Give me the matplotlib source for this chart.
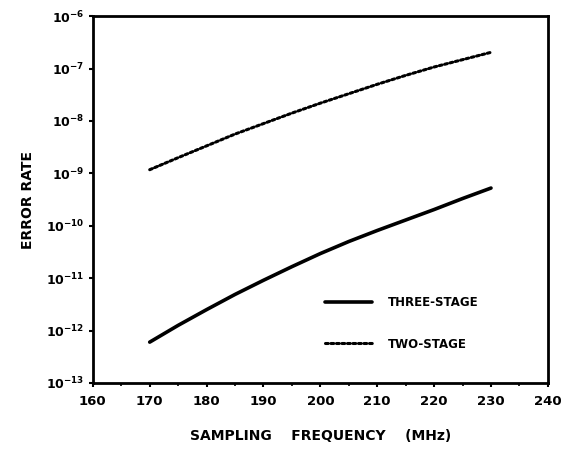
import numpy as np
import matplotlib
matplotlib.use("Agg")
import matplotlib.pyplot as plt
from matplotlib.ticker import FixedLocator, FuncFormatter, MultipleLocator

plt.rcParams['font.family'] = ['DejaVu Sans']
plt.rcParams['font.weight'] = 'bold'
plt.rcParams['mathtext.fontset'] = 'custom'
plt.rcParams['mathtext.rm'] = 'DejaVu Sans:bold'
plt.rcParams['mathtext.bf'] = 'DejaVu Sans:bold'
plt.rcParams['mathtext.default'] = 'bf'

# Data (log10 of error rate)
freq = [170, 175, 180, 185, 190, 195, 200, 205, 210, 215, 220, 225, 230]
three_stage_log = [-12.22, -11.90, -11.60, -11.31, -11.04, -10.78, -10.53,
                   -10.30, -10.09, -9.89, -9.69, -9.48, -9.28]
two_stage_log = [-8.93, -8.70, -8.475, -8.25, -8.05, -7.85, -7.66,
                 -7.48, -7.30, -7.13, -6.97, -6.83, -6.69]
three_stage = [10 ** v for v in three_stage_log]
two_stage = [10 ** v for v in two_stage_log]

x_ticks = [160, 170, 180, 190, 200, 210, 220, 230, 240]
y_exps = [-13, -12, -11, -10, -9, -8, -7, -6]

fig = plt.figure(figsize=(5.66, 4.49), dpi=100)
ax = fig.add_axes([0.164, 0.147, 0.804, 0.817])

ax.plot(freq, three_stage, color='black', lw=2.6, solid_capstyle='round',
        label='THREE-STAGE')
ax.plot(freq, two_stage, color='black', lw=2.2, linestyle=(0, (0.9, 0.9)),
        dash_capstyle='round', label='TWO-STAGE')

ax.set_yscale('log')
ax.set_xlim(160, 240)
ax.set_ylim(1e-13, 1e-6)
ax.xaxis.set_major_locator(FixedLocator(x_ticks))
ax.xaxis.set_minor_locator(MultipleLocator(5))
ax.yaxis.set_major_locator(FixedLocator([10.0 ** e for e in y_exps]))
ax.yaxis.set_minor_locator(FixedLocator([]))
ax.yaxis.set_major_formatter(FuncFormatter(
    lambda v, p: r'$\mathbf{10^{%d}}$' % int(round(np.log10(v)))))
ax.xaxis.set_major_formatter(FuncFormatter(lambda v, p: '%d' % v))

ax.tick_params(axis='both', which='major', direction='out', length=3,
               width=1.5, pad=3)
ax.tick_params(axis='y', which='major', labelsize=9)
ax.tick_params(axis='x', which='major', labelsize=9.5, pad=6)
ax.tick_params(axis='x', which='minor', direction='out', length=2, width=1.2)
for s in ax.spines.values():
    s.set_linewidth(2.0)

ax.set_xlabel('SAMPLING    FREQUENCY    (MHz)', fontsize=10, fontweight='bold',
              labelpad=15)
ax.set_ylabel('ERROR RATE', fontsize=10, fontweight='bold', labelpad=8)

leg = ax.legend(loc='upper left', bbox_to_anchor=(0.51, 0.238), frameon=False,
                fontsize=8.5, handlelength=4.0, handletextpad=1.3,
                labelspacing=2.45, borderpad=0, borderaxespad=0)

fig.savefig('out.png', dpi=100)
